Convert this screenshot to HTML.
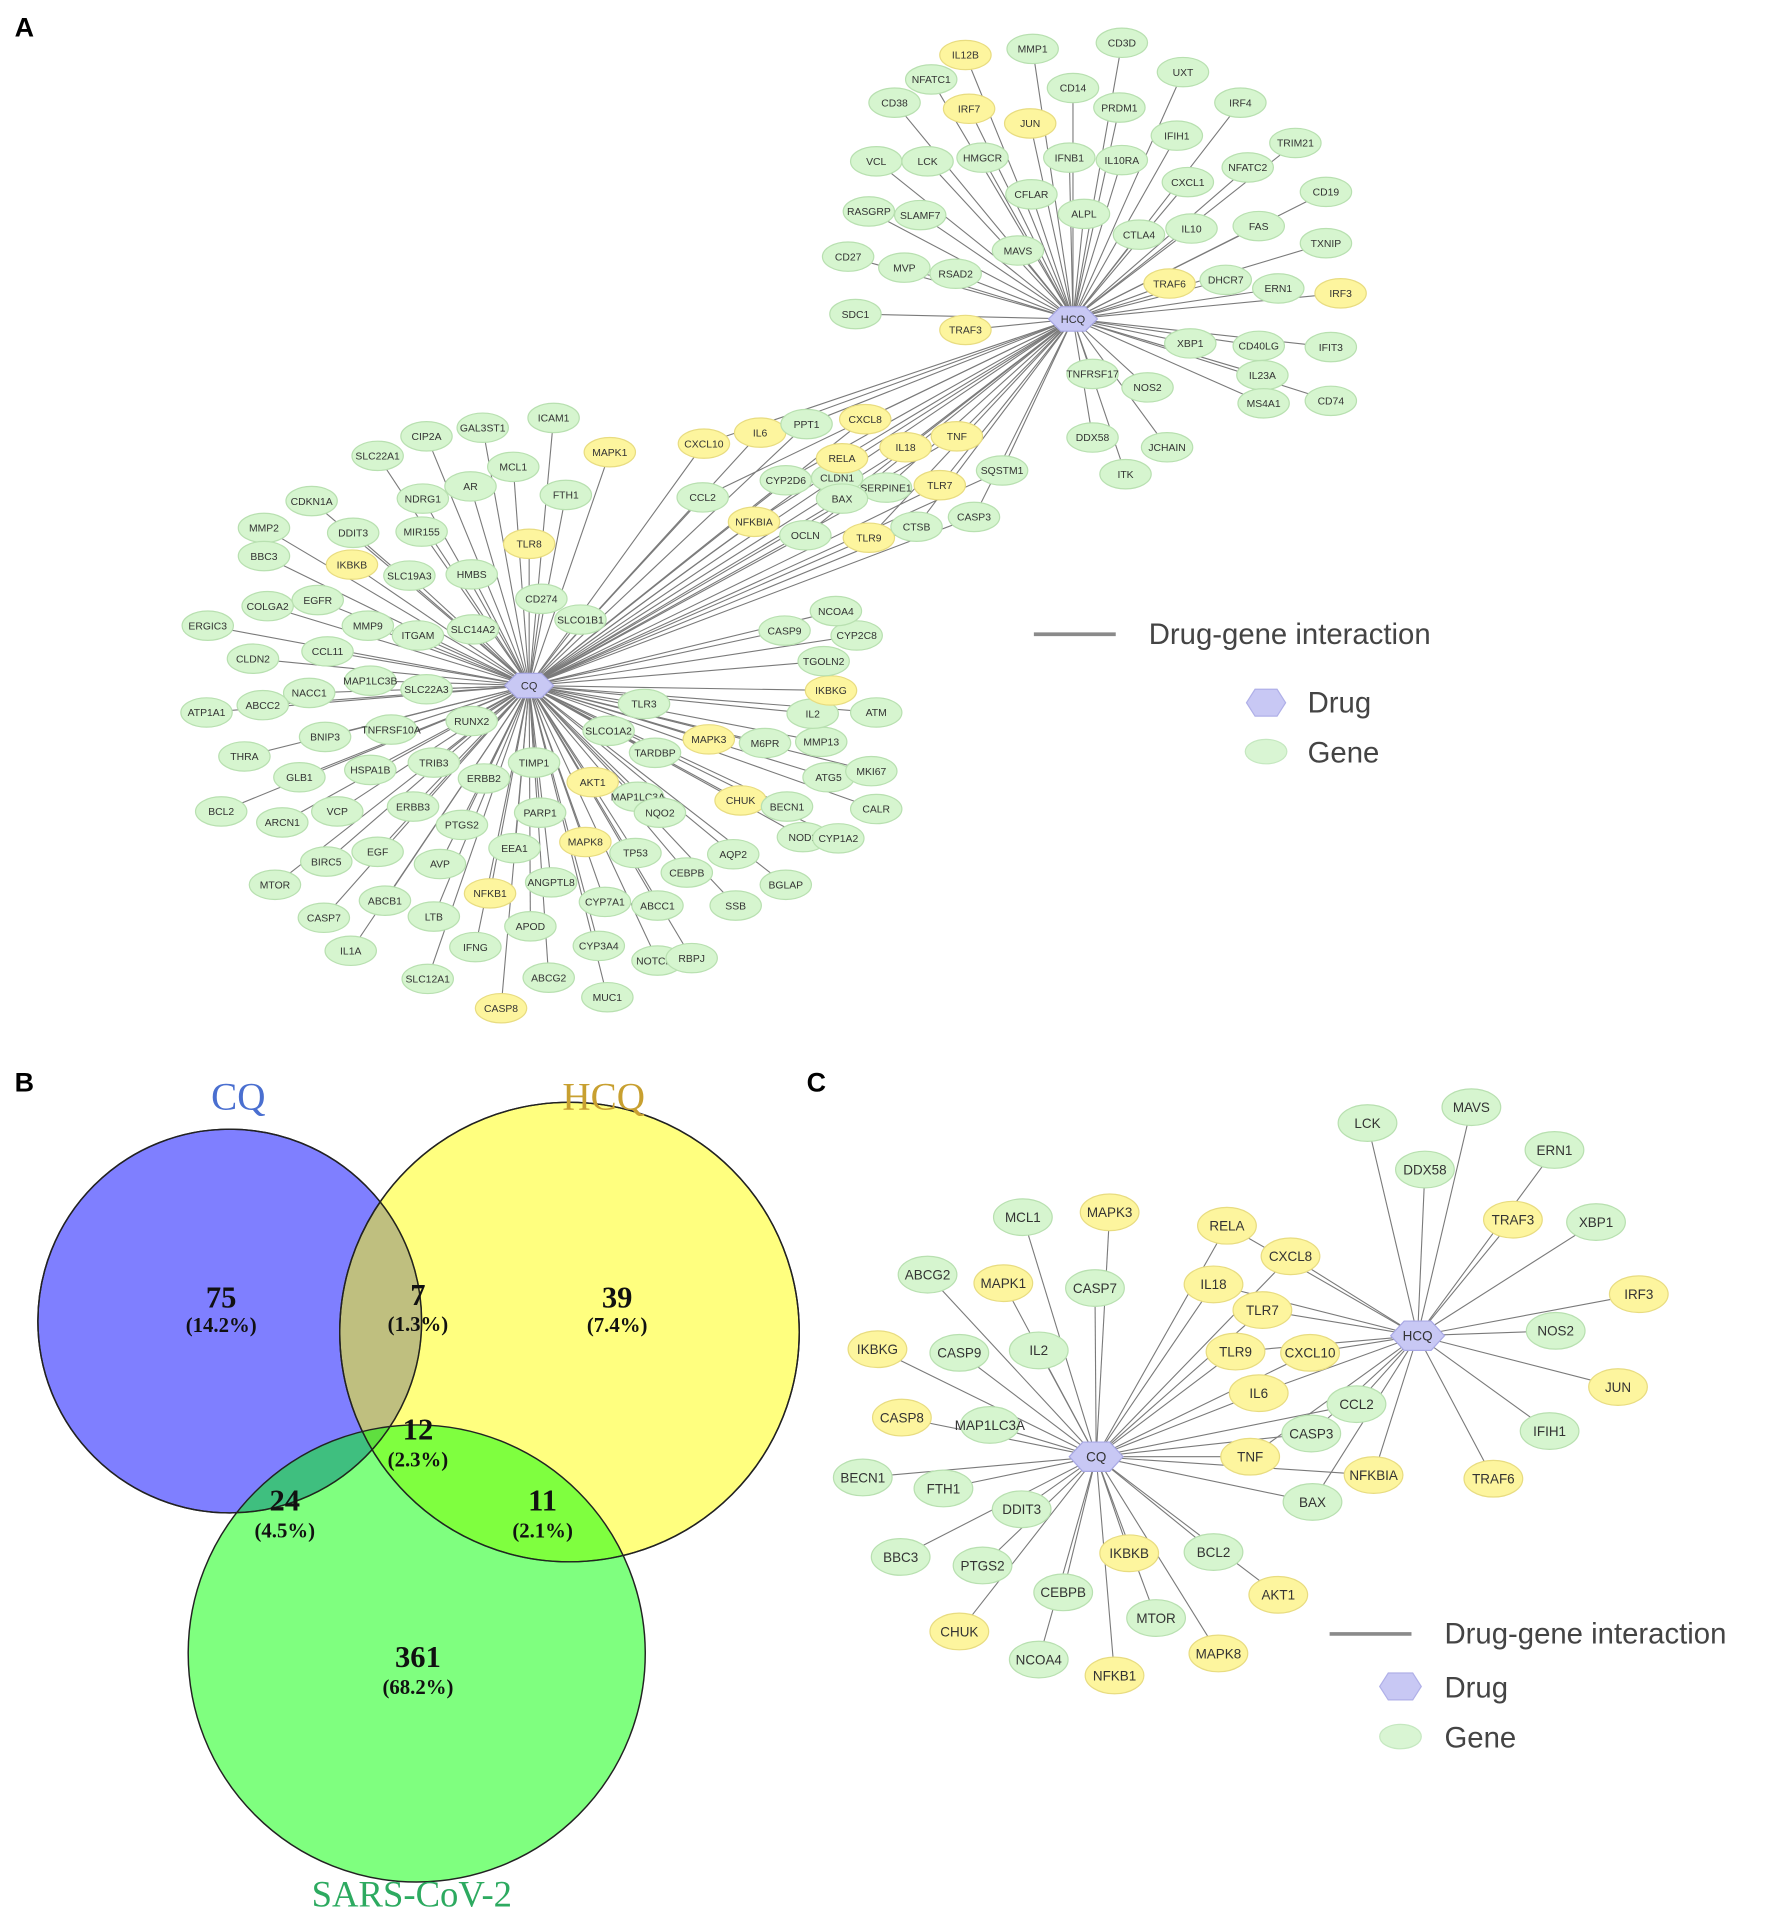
<!DOCTYPE html>
<html><head><meta charset="utf-8"><style>
html,body{margin:0;padding:0;background:#fff;}
svg{display:block;}
</style></head><body>
<svg id="s" width="1772" height="1915" viewBox="0 0 1450 1567" xmlns="http://www.w3.org/2000/svg" font-family="Liberation Sans, sans-serif">
<rect width="1450" height="1567" fill="#fff"/>
<g id="edges" stroke="#7a7a7a" stroke-width="0.9"></g>
<g id="nodes"></g>
<!-- panel labels -->
<text x="12" y="30" font-size="22" font-weight="bold">A</text>
<text x="12" y="893" font-size="22" font-weight="bold">B</text>
<text x="660" y="893" font-size="22" font-weight="bold">C</text>
<!-- Legend A -->
<line x1="846" y1="519" x2="913" y2="519" stroke="#8a8a8a" stroke-width="3"/>
<text x="940" y="527" font-size="24" fill="#444">Drug-gene interaction</text>
<polygon points="1020,575 1027,564 1045,564 1052,575 1045,586 1027,586" fill="#c8c8f4" stroke="#b0b0e8"/>
<text x="1070" y="583" font-size="24" fill="#444">Drug</text>
<ellipse cx="1036" cy="615" rx="17" ry="10" fill="#d9f5d3" stroke="#c5e8c0"/>
<text x="1070" y="624" font-size="24" fill="#444">Gene</text>
<!-- Legend C -->
<line x1="1088" y1="1337" x2="1155" y2="1337" stroke="#8a8a8a" stroke-width="3"/>
<text x="1182" y="1345" font-size="24" fill="#444">Drug-gene interaction</text>
<polygon points="1129,1380 1136,1369 1156,1369 1163,1380 1156,1391 1136,1391" fill="#c8c8f4" stroke="#b0b0e8"/>
<text x="1182" y="1389" font-size="24" fill="#444">Drug</text>
<ellipse cx="1146" cy="1421" rx="17" ry="10" fill="#d9f5d3" stroke="#c5e8c0"/>
<text x="1182" y="1430" font-size="24" fill="#444">Gene</text>
<!-- Venn -->
<g stroke="#222" stroke-width="1.2">
<circle cx="188" cy="1081" r="157" fill="#0000ff" fill-opacity="0.5"/>
<circle cx="466" cy="1090" r="188" fill="#ffff00" fill-opacity="0.5"/>
<circle cx="341" cy="1353" r="187" fill="#00ff00" fill-opacity="0.5"/>
</g>
<g fill="none" stroke="#222" stroke-width="1.2">
<circle cx="188" cy="1081" r="157"/>
<circle cx="466" cy="1090" r="188"/>
</g>
<g font-family="Liberation Serif, serif" font-weight="bold" text-anchor="middle" fill="#111">
<text x="181" y="1070" font-size="25">75</text><text x="181" y="1090" font-size="17">(14.2%)</text>
<text x="342" y="1068" font-size="25">7</text><text x="342" y="1089" font-size="17">(1.3%)</text>
<text x="505" y="1070" font-size="25">39</text><text x="505" y="1090" font-size="17">(7.4%)</text>
<text x="342" y="1178" font-size="25">12</text><text x="342" y="1200" font-size="17">(2.3%)</text>
<text x="233" y="1236" font-size="25">24</text><text x="233" y="1258" font-size="17">(4.5%)</text>
<text x="444" y="1236" font-size="25">11</text><text x="444" y="1258" font-size="17">(2.1%)</text>
<text x="342" y="1364" font-size="25">361</text><text x="342" y="1386" font-size="17">(68.2%)</text>
</g>
<g font-family="Liberation Serif, serif" text-anchor="middle" font-size="32">
<text x="195" y="908" fill="#4a6fd0">CQ</text>
<text x="494" y="908" fill="#c8a030">HCQ</text>
<text x="337" y="1560" fill="#2daa60" font-size="30">SARS-CoV-2</text>
</g>
</svg>
<script>
var NS="http://www.w3.org/2000/svg";
var E=document.getElementById("edges"),N=document.getElementById("nodes");
function el(t,a,p){var e=document.createElementNS(NS,t);for(var k in a)e.setAttribute(k,a[k]);p.appendChild(e);return e;}
function line(a,b){el("line",{x1:a[0],y1:a[1],x2:b[0],y2:b[1]},E);}
function node(n,x,y,yel,rx,ry,fs){
 el("ellipse",{cx:x,cy:y,rx:rx,ry:ry,fill:yel?"#fdf59e":"#d6f5cf",stroke:yel?"#e8dc80":"#b8e0b0","stroke-width":1},N);
 var t=el("text",{x:x,y:y+fs*0.36,"font-size":fs,"text-anchor":"middle",fill:"#333"},N);t.textContent=n;
}
function drug(n,x,y,w,h,fs){
 el("polygon",{points:[[x-w,y],[x-w/2,y-h],[x+w/2,y-h],[x+w,y],[x+w/2,y+h],[x-w/2,y+h]].map(function(p){return p.join(",")}).join(" "),fill:"#c8c8f4",stroke:"#a8a8e4"},N);
 var t=el("text",{x:x,y:y+fs*0.36,"font-size":fs,"text-anchor":"middle",fill:"#333"},N);t.textContent=n;
}
function parse(s){return s.trim().split(/\s*;\s*/).map(function(q){var p=q.split(",");return [p[0],+p[1],+p[2],p[3]=="Y"];});}
// Panel A
var H=[878,261],C=[433,561];
var aH=parse("IL12B,790,45,Y;MMP1,845,40;CD3D,918,35;NFATC1,762,65;CD38,732,84;IRF7,793,89,Y;JUN,843,101,Y;CD14,878,72;PRDM1,916,88;UXT,968,59;IRF4,1015,84;VCL,717,132;LCK,759,132;HMGCR,804,129;IFNB1,875,129;IL10RA,918,131;IFIH1,963,111;TRIM21,1060,117;NFATC2,1021,137;CXCL1,972,149;CD19,1085,157;CFLAR,844,159;ALPL,887,175;RASGRP,711,173;SLAMF7,753,176;MAVS,833,205;CTLA4,932,192;IL10,975,187;FAS,1030,185;TXNIP,1085,199;CD27,694,210;MVP,740,219;RSAD2,782,224;TRAF6,957,232,Y;DHCR7,1003,229;ERN1,1046,236;IRF3,1097,240,Y;SDC1,700,257;TRAF3,790,270,Y;XBP1,974,281;CD40LG,1030,283;IFIT3,1089,284;TNFRSF17,894,306;NOS2,939,317;IL23A,1033,307;MS4A1,1034,330;CD74,1089,328;DDX58,894,358;JCHAIN,955,366;ITK,921,388");
var aS=parse("CXCL10,576,363,Y;IL6,622,354,Y;PPT1,660,347;CXCL8,708,343,Y;CYP2D6,643,393;CLDN1,685,391;RELA,689,375,Y;IL18,741,366,Y;TNF,783,357,Y;SERPINE1,725,399;BAX,689,408;TLR7,769,397,Y;SQSTM1,820,385;CCL2,575,407;NFKBIA,617,427,Y;OCLN,659,438;TLR9,711,440,Y;CTSB,750,431;CASP3,797,423");
var aC=parse("ICAM1,453,342;GAL3ST1,395,350;CIP2A,349,357;SLC22A1,309,373;MAPK1,499,370,Y;MCL1,420,382;AR,385,398;NDRG1,346,408;FTH1,463,405;CDKN1A,255,410;DDIT3,289,436;MIR155,345,435;MMP2,216,432;BBC3,216,455;IKBKB,288,462,Y;TLR8,433,445,Y;HMBS,386,470;SLC19A3,335,471;CD274,443,490;SLCO1B1,475,507;EGFR,260,491;COLGA2,219,496;MMP9,301,512;ITGAM,342,520;SLC14A2,387,515;ERGIC3,170,512;CCL11,268,533;CLDN2,207,539;MAP1LC3B,303,557;SLC22A3,349,564;NACC1,253,567;ABCC2,215,577;ATP1A1,169,583;TNFRSF10A,320,597;RUNX2,386,590;BNIP3,266,603;THRA,200,619;HSPA1B,303,630;TRIB3,355,624;GLB1,245,636;ERBB2,396,637;TIMP1,437,624;VCP,276,664;ERBB3,338,660;BCL2,181,664;ARCN1,231,673;PTGS2,378,675;PARP1,442,665;EGF,309,697;BIRC5,267,705;AVP,360,707;EEA1,421,694;MTOR,225,724;ABCB1,315,737;NFKB1,401,731,Y;ANGPTL8,451,722;LTB,355,750;CASP7,265,751;APOD,434,758;IFNG,389,775;IL1A,287,778;SLC12A1,350,801;CASP8,410,825,Y;ABCG2,449,800;CYP3A4,490,774;MUC1,497,816;CYP7A1,495,738;MAPK8,479,689,Y;AKT1,485,640,Y;MAP1LC3A,522,652;TP53,520,698;ABCC1,538,741;NOTCH1,538,786;RBPJ,566,784;CEBPB,562,714;SSB,602,741;NQO2,540,665;AQP2,600,699;BGLAP,643,724;TARDBP,536,616;SLCO1A2,498,598;TLR3,527,576;MAPK3,580,605,Y;M6PR,626,608;CHUK,606,655,Y;BECN1,644,660;NOD2,657,685;CYP1A2,686,686;ATG5,678,636;CALR,717,662;MKI67,713,631;MMP13,672,607;IL2,665,584;ATM,717,583;IKBKG,680,565,Y;TGOLN2,674,541;CASP9,642,516;CYP2C8,701,520;NCOA4,684,500");
aH.forEach(function(n){line(H,[n[1],n[2]]);});
aC.forEach(function(n){line(C,[n[1],n[2]]);});
aS.forEach(function(n){line(H,[n[1],n[2]]);line(C,[n[1],n[2]]);});
aH.concat(aS,aC).forEach(function(n){node(n[0],n[1],n[2],n[3],21,12,8.5);});
drug("HCQ",H[0],H[1],20,10,9);drug("CQ",C[0],C[1],20,10,9);
// Panel C
var H2=[1160,1093],C2=[897,1192];
var cH=parse("LCK,1119,919;MAVS,1204,906;DDX58,1166,957;ERN1,1272,941;TRAF3,1238,998,Y;XBP1,1306,1000;IRF3,1341,1059,Y;NOS2,1273,1089;JUN,1324,1135,Y;IFIH1,1268,1171;TRAF6,1222,1210,Y");
var cS=parse("RELA,1004,1003,Y;CXCL8,1056,1028,Y;IL18,993,1051,Y;TLR7,1033,1072,Y;TLR9,1011,1106,Y;CXCL10,1072,1107,Y;IL6,1030,1140,Y;CCL2,1110,1149;CASP3,1073,1173;TNF,1023,1192,Y;NFKBIA,1124,1207,Y;BAX,1074,1229");
var cC=parse("MCL1,837,996;MAPK3,908,992,Y;ABCG2,759,1043;MAPK1,821,1050,Y;CASP7,896,1054;IKBKG,718,1104,Y;CASP9,785,1107;IL2,850,1105;CASP8,738,1160,Y;MAP1LC3A,810,1166;BECN1,706,1209;FTH1,772,1218;DDIT3,836,1235;BBC3,737,1274;PTGS2,804,1281;IKBKB,924,1271,Y;BCL2,993,1270;CEBPB,870,1303;MTOR,946,1324;AKT1,1046,1305,Y;CHUK,785,1335,Y;NCOA4,850,1358;NFKB1,912,1371,Y;MAPK8,997,1353,Y");
cH.forEach(function(n){line(H2,[n[1],n[2]]);});
cC.forEach(function(n){line(C2,[n[1],n[2]]);});
cS.forEach(function(n){line(H2,[n[1],n[2]]);line(C2,[n[1],n[2]]);});
cH.concat(cS,cC).forEach(function(n){node(n[0],n[1],n[2],n[3],24,15,11);});
drug("HCQ",H2[0],H2[1],22,12,11);drug("CQ",C2[0],C2[1],22,12,11);
</script>
</body></html>
